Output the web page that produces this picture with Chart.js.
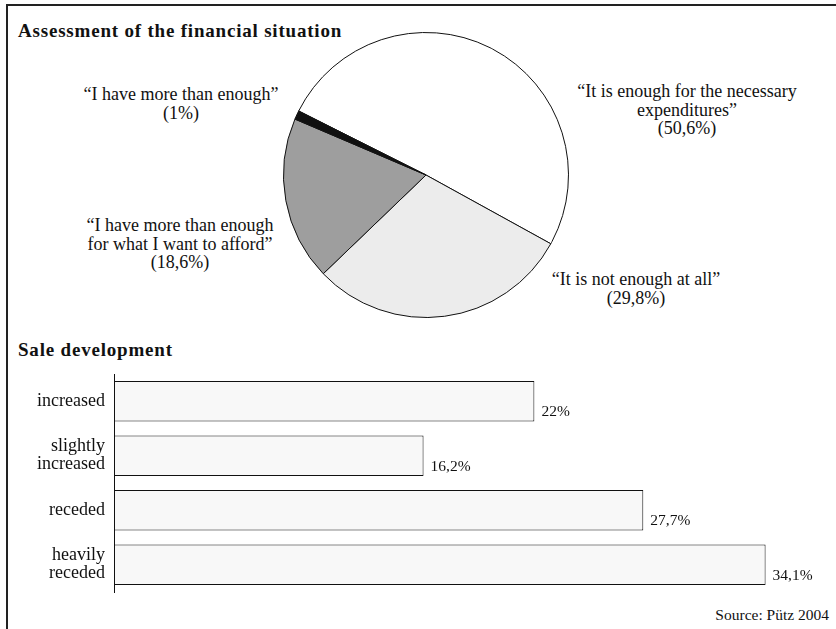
<!DOCTYPE html>
<html>
<head>
<meta charset="utf-8">
<script src="https://cdn.jsdelivr.net/npm/chart.js@4.4.1/dist/chart.umd.min.js"></script>
<style>
    html, body { margin: 0; padding: 0; background: #fff; }
    body { width: 836px; height: 629px; position: relative; overflow: hidden; font-family: "Liberation Serif", serif; color: #111; }
    .frame { position: absolute; left: 6px; top: 4px; width: 840px; height: 640px; border-top: 2px solid #222; border-left: 2px solid #222; }
    .title { position: absolute; left: 18px; font-size: 19px; font-weight: bold; letter-spacing: 0.8px; line-height: 20px; white-space: nowrap; }
    .lbl { position: absolute; font-size: 18px; line-height: 18.5px; text-align: center; white-space: nowrap; transform: translateX(-50%); }
    #pieWrap { position: absolute; left: 283px; top: 32px; width: 286px; height: 286px; }
    #barWrap { position: absolute; left: 0; top: 360px; width: 836px; height: 245px; }
    .source { position: absolute; right: 7px; top: 606px; font-size: 15.5px; line-height: 17px; }
</style>
</head>
<body>
<div class="frame"></div>
<div class="title" style="top:21px">Assessment of the financial situation</div>
<div class="title" style="top:340px">Sale development</div>

<div class="lbl" style="left:181px; top:85px">“I have more than enough”<br>(1%)</div>
<div class="lbl" style="left:180px; top:216px">“I have more than enough<br>for what I want to afford”<br>(18,6%)</div>
<div class="lbl" style="left:687px; top:82px">“It is enough for the necessary<br>expenditures”<br>(50,6%)</div>
<div class="lbl" style="left:636px; top:270px">“It is not enough at all”<br>(29,8%)</div>

<div id="pieWrap"><canvas id="pieChart"></canvas></div>
<div id="barWrap"><canvas id="barChart"></canvas></div>
<div class="source">Source: Pütz 2004</div>

<script>
// Pie: assessment of the financial situation (clockwise order)
const pieLabels = ["It is enough for the necessary expenditures", "It is not enough at all", "I have more than enough for what I want to afford", "I have more than enough"];
const pieValues = [50.6, 29.8, 18.6, 1];
const pieColors = ["#ffffff", "#ececec", "#9e9e9e", "#111111"];

// Bars: sale development
const barLabels = [["increased"], ["slightly", "increased"], ["receded"], ["heavily", "receded"]];
const barValues = [22, 16.2, 27.7, 34.1];

const serif = '"Liberation Serif", serif';

Chart.defaults.font.family = serif;
Chart.defaults.color = "#111";

new Chart(document.getElementById("pieChart"), {
    type: "pie",
    data: {
        labels: pieLabels,
        datasets: [{
            data: pieValues,
            backgroundColor: pieColors,
            borderColor: "#111",
            borderWidth: 1
        }]
    },
    options: {
        responsive: true,
        maintainAspectRatio: false,
        animation: false,
        rotation: -63.3,
        layout: { padding: 0 },
        plugins: { legend: { display: false }, tooltip: { enabled: false } }
    }
});

// value labels to the right of each bar end, low in the bar
const barValueLabels = {
    id: "barValueLabels",
    afterDatasetsDraw(chart) {
        const ctx = chart.ctx;
        const meta = chart.getDatasetMeta(0);
        ctx.save();
        ctx.font = "15.5px " + serif;
        ctx.fillStyle = "#111";
        ctx.textAlign = "left";
        ctx.textBaseline = "middle";
        meta.data.forEach((bar, i) => {
            const txt = String(barValues[i]).replace(".", ",") + "%";
            ctx.fillText(txt, bar.x + 7, bar.y + bar.height / 2 - 9);
        });
        ctx.restore();
    }
};

new Chart(document.getElementById("barChart"), {
    type: "bar",
    data: {
        labels: barLabels,
        datasets: [{
            data: barValues,
            backgroundColor: "#f8f8f8",
            borderColor: "#111",
            borderWidth: 1,
            borderSkipped: false,
            barPercentage: 0.74,
            categoryPercentage: 1
        }]
    },
    options: {
        indexAxis: "y",
        responsive: true,
        maintainAspectRatio: false,
        animation: false,
        layout: { padding: { top: 14, bottom: 13, left: 0, right: 15 } },
        scales: {
            x: { display: false, min: 0, max: 37 },
            y: {
                // fixed width so the axis sits at x=114; no extra label padding
                afterFit: s => { s.width = 114; s.paddingTop = 0; s.paddingBottom = 0; },
                grid: { display: false, drawTicks: false },
                border: { display: true, color: "#111", width: 1 },
                ticks: {
                    padding: 9,
                    color: "#111",
                    font: { size: 18, family: serif, lineHeight: 1.0 }
                }
            }
        },
        plugins: { legend: { display: false }, tooltip: { enabled: false } }
    },
    plugins: [barValueLabels]
});
</script>
</body>
</html>
